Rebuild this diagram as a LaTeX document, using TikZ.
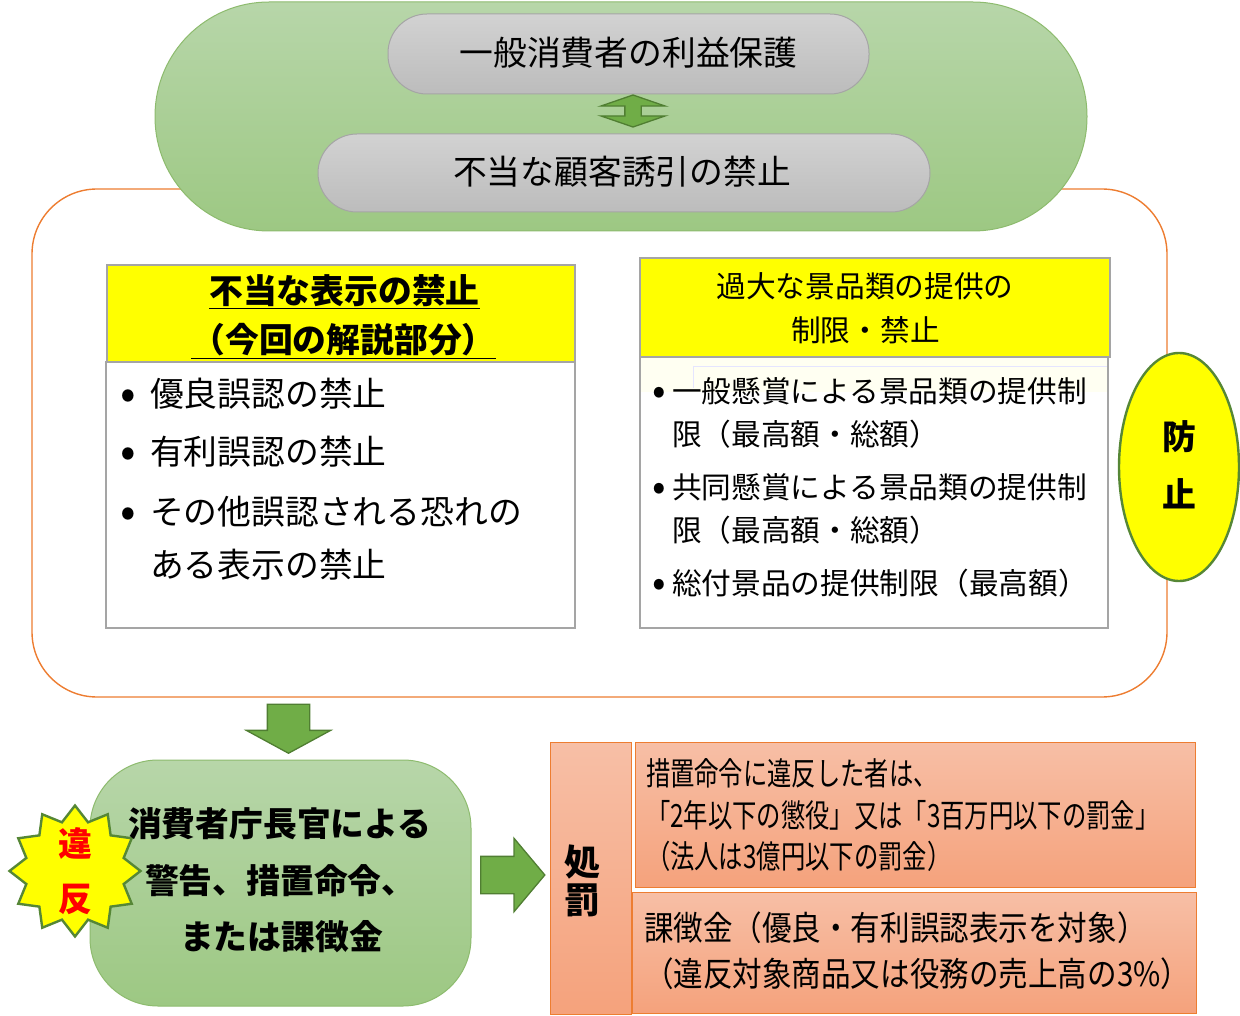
\documentclass[tikz,border=0pt]{standalone}
\usepackage{fontspec}
\usepackage{xcolor}
\setmainfont{Noto Sans CJK JP}
\newfontfamily\narrowa[FakeStretch=0.76]{Noto Sans CJK JP}
\newfontfamily\narrowb[FakeStretch=0.88]{Noto Sans CJK JP}
\usetikzlibrary{shapes.geometric,shapes.arrows}
\definecolor{pillup}{HTML}{B7D6A9}
\definecolor{pilldown}{HTML}{9DC883}
\definecolor{pillline}{HTML}{8DBB6E}
\definecolor{grayup}{HTML}{D2D2D2}
\definecolor{graydown}{HTML}{BCBCBC}
\definecolor{grayline}{HTML}{A5A5A5}
\definecolor{arrowfill}{HTML}{70AD47}
\definecolor{arrowline}{HTML}{507E32}
\definecolor{frameline}{HTML}{ED7D31}
\definecolor{salmonup}{HTML}{F7BFA6}
\definecolor{salmondown}{HTML}{F5A27C}
\definecolor{palebox}{HTML}{FFFFF2}
\definecolor{marker}{RGB}{255,255,0}
\definecolor{alarm}{RGB}{255,0,0}
\newcommand{\tsize}[1]{\fontsize{#1pt}{#1pt}\selectfont}

\begin{document}
\begin{tikzpicture}
	[x=1pt,y=-1pt,every node/.style={inner sep=0pt,outer sep=0pt}]
	\tikzstyle{frame} = [draw=frameline,line width=1.4pt,rounded corners=65pt,minimum width=1135pt,minimum height=508pt];
	\tikzstyle{pill} = [draw=pillline,line width=1pt,top color=pillup,bottom color=pilldown];
	\tikzstyle{graypill} = [draw=grayline,line width=1pt,top color=grayup,bottom color=graydown,rounded corners=39pt];
	\tikzstyle{head} = [draw=grayline,line width=2pt,fill=marker];
	\tikzstyle{body} = [draw=grayline,line width=2pt,fill=white];
	\tikzstyle{salmon} = [draw=frameline,line width=1pt,top color=salmonup,bottom color=salmondown];
	\tikzstyle{blockarrow} = [draw=arrowline,line width=1.3pt,fill=arrowfill];
	\tikzstyle{big} = [font=\tsize{33.8}];
	\tikzstyle{mid} = [font=\tsize{29.7}];
	\tikzstyle{heavy} = [font=\tsize{33.8}\bfseries];
	\tikzstyle{dotbig} = [font=\tsize{46}];
	\tikzstyle{dotmid} = [font=\tsize{40}];
	\tikzstyle{lineA} = [anchor=west,font=\tsize{32}\narrowa];
	\tikzstyle{lineB} = [anchor=west,font=\tsize{33.6}\narrowb];
	
	\useasboundingbox (0,0) rectangle (1240,1016);
	
	% upper part
	\node[frame] (frame) at (599.5,443) {};
	\node[pill,rounded corners=114pt,minimum width=932pt,minimum height=229pt] (goal) at (621,116.5) {};
	\node[graypill,minimum width=481pt,minimum height=80pt] (g1) at (628.5,54) {};
	\node[graypill,minimum width=612pt,minimum height=78pt] (g2) at (624,173) {};
	\node[big] (g1t) at (628.5,53) {一般消費者の利益保護};
	\node[big] (g2t) at (622,172) {不当な顧客誘引の禁止};
	\node[blockarrow,double arrow,rotate=90,inner ysep=7.5pt,minimum height=32pt,double arrow head extend=24pt,double arrow tip angle=142] (g12) at (633,111) {};
	
	% left table
	\node[body,minimum width=469pt,minimum height=266pt] (lb) at (340.5,495) {};
	\node[head,minimum width=468pt,minimum height=97pt] (lh) at (341,313.5) {};
	\node[heavy] (lh1) at (344.5,292) {\underline{不当な表示の禁止}};
	\node[heavy] (lh2) at (343.5,341) {\underline{（今回の解説部分）}};
	\node[dotbig] (b1) at (128.5,400) {•};
	\node[dotbig] (b2) at (128.5,458) {•};
	\node[dotbig] (b3) at (128.5,518) {•};
	\node[big,anchor=west] (l1) at (150,394) {優良誤認の禁止};
	\node[big,anchor=west] (l2) at (150,452) {有利誤認の禁止};
	\node[big,anchor=west] (l3) at (150,512) {その他誤認される恐れの};
	\node[big,anchor=west] (l4) at (150,565) {ある表示の禁止};
	
	% right table
	\node[body,minimum width=468pt,minimum height=271pt] (rb) at (874,492.5) {};
	\fill[palebox] (641,358) rectangle (1107,392);
	\draw[white!90!blue] (693,366) -- (1107,366) (693,366) -- (693,388);
	\node[head,minimum width=470pt,minimum height=99pt] (rh) at (875,307.5) {};
	\node[mid] (rh1) at (865,286) {過大な景品類の提供の};
	\node[mid] (rh2) at (865.5,330) {制限・禁止};
	\node[dotmid] (c1) at (659.5,396) {•};
	\node[dotmid] (c2) at (659.5,492) {•};
	\node[dotmid] (c3) at (659.5,588) {•};
	\node[mid,anchor=west] (r1) at (672,391) {一般懸賞による景品類の提供制};
	\node[mid,anchor=west] (r2) at (672,434) {限（最高額・総額）};
	\node[mid,anchor=west] (r3) at (672,487) {共同懸賞による景品類の提供制};
	\node[mid,anchor=west] (r4) at (672,530) {限（最高額・総額）};
	\node[mid,anchor=west] (r5) at (672,583) {総付景品の提供制限（最高額）};
	
	% oval
	\node[ellipse,draw=arrowline!80!arrowfill,line width=2.4pt,fill=marker,minimum width=120pt,minimum height=228pt] (guard) at (1179,467) {};
	\node[heavy] (guard1) at (1179,437) {防};
	\node[heavy] (guard2) at (1179,494) {止};
	
	% lower part
	\node[blockarrow,single arrow,rotate=270,inner ysep=20.5pt,minimum height=49pt,single arrow head extend=21pt,single arrow tip angle=123] (down) at (288.5,723) {};
	\node[pill,rounded corners=68pt,minimum width=381pt,minimum height=246pt] (order) at (280.5,883) {};
	\node[star,star points=12,star point ratio=1.3,draw=arrowline!80!arrowfill,line width=2.4pt,fill=marker,minimum size=131pt] (breach) at (75,871) {};
	\node[font=\tsize{33.8}\bfseries,text=alarm] (breach1) at (75,843) {違};
	\node[font=\tsize{33.8}\bfseries,text=alarm] (breach2) at (75,899) {反};
	\node[heavy,anchor=west] (o1) at (128,824) {消費者庁長官による};
	\node[heavy,anchor=west] (o2) at (145,881) {警告、措置命令、};
	\node[heavy,anchor=west] (o3) at (180,937) {または課徴金};
	\node[blockarrow,single arrow,inner ysep=18pt,minimum height=64pt,single arrow head extend=18pt,single arrow tip angle=100] (right) at (505,875) {};
	
	% penalty
	\node[salmon,minimum width=81pt,minimum height=272pt] (pen) at (590.5,878) {};
	\node[font=\tsize{36}\bfseries] (pen1) at (582,862) {処};
	\node[font=\tsize{36}\bfseries] (pen2) at (582,900) {罰};
	\node[salmon,minimum width=560pt,minimum height=145pt] (p1) at (915,814.5) {};
	\node[salmon,minimum width=564pt,minimum height=121pt] (p2) at (914,952.5) {};
	\node[lineA] (p1a) at (646,773) {措置命令に違反した者は、};
	\node[lineA] (p1b) at (646,815) {「2年以下の懲役」又は「3百万円以下の罰金」};
	\node[lineA] (p1c) at (646,856) {（法人は3億円以下の罰金）};
	\node[lineB] (p2a) at (644,928) {課徴金（優良・有利誤認表示を対象）};
	\node[lineB] (p2b) at (644,974) {（違反対象商品又は役務の売上高の3\%）};
\end{tikzpicture}
\end{document}
